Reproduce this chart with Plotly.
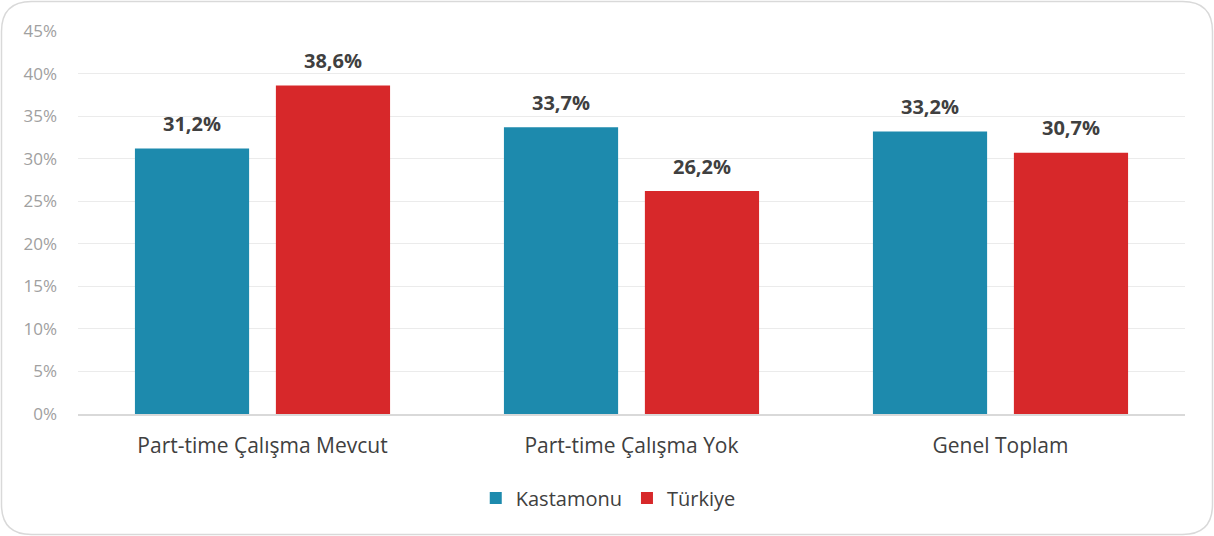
import plotly.graph_objects as go

categories = ["Part-time Çalışma Mevcut", "Part-time Çalışma Yok", "Genel Toplam"]
kastamonu = [31.2, 33.7, 33.2]
turkiye = [38.6, 26.2, 30.7]
tick_vals = [0, 5, 10, 15, 20, 25, 30, 35, 40, 45]
tick_text = [f"{v}%" for v in tick_vals]

def fmt(v):
    return f"{v:.1f}".replace(".", ",") + "%"

W, H = 1214, 536
ml, mr, mt, mb = 78, 29, 31, 122
pw, ph = W - ml - mr, H - mt - mb
BARGAP, GROUPGAP = 0.236, 0.19

series = [("Kastamonu", kastamonu, "#1d8aad"), ("Türkiye", turkiye, "#d7282a")]

fig = go.Figure()
for name, vals, col in series:
    fig.add_trace(go.Bar(
        name=name, x=categories, y=vals,
        marker=dict(color=col, line=dict(width=0)),
    ))

# data labels as annotations, offset to each bar's slot
catw = pw / len(categories)
slot = catw * (1 - BARGAP) / len(series)
for i, (name, vals, col) in enumerate(series):
    xs = (i - (len(series) - 1) / 2) * slot
    for c, v in zip(categories, vals):
        fig.add_annotation(
            x=c, y=v, text=f"<b>{fmt(v)}</b>", showarrow=False,
            xshift=xs, yshift=25, yanchor="middle",
            font=dict(family="Open Sans", size=20, color="#404040"),
        )

# rounded border in paper coordinates
def X(px):
    return (px - ml) / pw

def Y(py):
    return (H - mb - py) / ph

x0, x1, y0, y1, r = 1.5, W - 1.5, 1.5, H - 1.5, 30
path = (
    f"M {X(x0 + r)},{Y(y0)} L {X(x1 - r)},{Y(y0)} Q {X(x1)},{Y(y0)} {X(x1)},{Y(y0 + r)} "
    f"L {X(x1)},{Y(y1 - r)} Q {X(x1)},{Y(y1)} {X(x1 - r)},{Y(y1)} "
    f"L {X(x0 + r)},{Y(y1)} Q {X(x0)},{Y(y1)} {X(x0)},{Y(y1 - r)} "
    f"L {X(x0)},{Y(y0 + r)} Q {X(x0)},{Y(y0)} {X(x0 + r)},{Y(y0)} Z"
)
fig.add_shape(type="path", path=path, xref="paper", yref="paper",
              line=dict(color="#d9d9d9", width=1.5), layer="below")

fig.update_layout(
    width=W, height=H,
    margin=dict(l=ml, r=mr, t=mt, b=mb, autoexpand=False),
    paper_bgcolor="white", plot_bgcolor="white",
    barmode="group", bargap=BARGAP, bargroupgap=GROUPGAP,
    font=dict(family="Open Sans", color="#595959"),
    showlegend=True,
    legend=dict(orientation="h", x=0.479, xanchor="center", y=-0.219, yanchor="middle",
                font=dict(size=20, color="#404040"), itemwidth=30, traceorder="normal"),
    xaxis=dict(showgrid=False, showline=True, linecolor="#d9d9d9", linewidth=2,
               ticks="", tickfont=dict(size=21, color="#404040"), ticklabelstandoff=12),
    yaxis=dict(range=[0, 45], tickvals=tick_vals, ticktext=tick_text,
               showgrid=True, gridcolor="#ebebeb", gridwidth=1, zeroline=False,
               showline=False, ticks="", tickfont=dict(size=17, color="#a0a0a0"),
               ticklabelstandoff=20),
)

fig.write_html("out.html", config={"displayModeBar": False},
               post_script="document.body.style.margin='0';")
